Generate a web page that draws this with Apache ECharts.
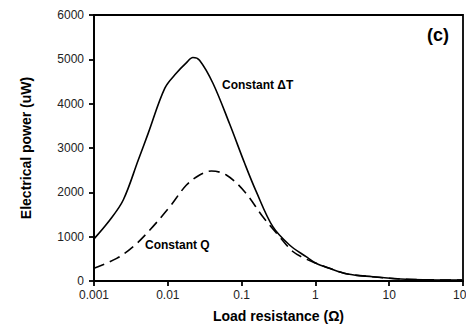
<!DOCTYPE html>
<html>
<head>
<meta charset="utf-8">
<script src="https://cdn.jsdelivr.net/npm/echarts@6/dist/echarts.min.js"></script>
<style>
  html, body { margin: 0; padding: 0; background: #fff; }
  #chart { width: 466px; height: 334px; }
</style>
</head>
<body>
<div id="chart"></div>
<script>
// Load resistance (ohm) and electrical power (uW) for the two operating modes
const resistanceDT = [0.001, 0.00164, 0.00249, 0.00398, 0.00542, 0.00912, 0.0131, 0.0178, 0.0219, 0.0269,
  0.0409, 0.0689, 0.11, 0.158, 0.265, 0.446, 0.748, 1.02, 1.55, 2.73, 5.94, 16.8, 97.7];
const powerDT = [950, 1376, 1827, 2730, 3330, 4350, 4690, 4920, 5040, 4980,
  4460, 3540, 2655, 2015, 1225, 812, 548, 400, 286, 158, 97, 38, 20];

const resistanceQ = [0.001, 0.00203, 0.0034, 0.00571, 0.0107, 0.0179, 0.027, 0.039, 0.0621, 0.11,
  0.194, 0.327, 0.494, 0.708, 1.02, 1.55, 2.73, 5.94, 16.8, 97.7];
const powerQ = [290, 510, 775, 1150, 1680, 2165, 2390, 2480, 2390, 2015,
  1450, 1000, 665, 515, 400, 286, 158, 97, 38, 20];

const xTickLabels = ['0.001', '0.01', '0.1', '1', '10', '100'];
const yTickValues = [0, 1000, 2000, 3000, 4000, 5000, 6000];

const pairs = (xs, ys) => xs.map((x, i) => [x, ys[i]]);

const chart = echarts.init(document.getElementById('chart'), null, { renderer: 'svg' });

const font = 'Liberation Sans, Arial, sans-serif';

chart.setOption({
  backgroundColor: '#fff',
  animation: false,
  grid: {
    left: 94, right: 3, top: 15, bottom: 53,
    outerBoundsMode: 'none', containLabel: false,
    show: true, borderColor: '#000', borderWidth: 1.8, backgroundColor: 'transparent'
  },
  xAxis: {
    type: 'log', logBase: 10, min: 0.001, max: 100,
    name: 'Load resistance (Ω)', nameLocation: 'middle', nameGap: 28,
    nameTextStyle: { fontFamily: font, fontSize: 14, fontWeight: 'bold', color: '#000' },
    axisLine: { show: true, lineStyle: { color: '#000', width: 1.8 } },
    axisTick: { show: true, inside: false, length: 5, lineStyle: { color: '#000', width: 1.8 } },
    minorTick: { show: false },
    splitLine: { show: false },
    axisLabel: {
      margin: 8, fontFamily: font, fontSize: 12, color: '#222', hideOverlap: false,
      formatter: v => xTickLabels[Math.round(Math.log10(v)) + 3]
    }
  },
  yAxis: {
    type: 'value', min: yTickValues[0], max: yTickValues[yTickValues.length - 1], interval: 1000,
    name: 'Electrical power (uW)', nameLocation: 'middle', nameGap: 61,
    nameTextStyle: { fontFamily: font, fontSize: 14, fontWeight: 'bold', color: '#000' },
    axisLine: { show: true, lineStyle: { color: '#000', width: 1.8 } },
    axisTick: { show: true, inside: false, length: 5, lineStyle: { color: '#000', width: 1.8 } },
    splitLine: { show: false },
    axisLabel: { margin: 10, fontFamily: font, fontSize: 12, color: '#222', formatter: v => String(v) }
  },
  series: [
    {
      name: 'Constant ΔT', type: 'line', data: pairs(resistanceDT, powerDT),
      smooth: 0.35, symbol: 'none',
      lineStyle: { color: '#000', width: 1.6, type: 'solid' }
    },
    {
      name: 'Constant Q', type: 'line', data: pairs(resistanceQ, powerQ),
      smooth: 0.35, symbol: 'none',
      lineStyle: { color: '#000', width: 1.6, type: [11, 6] }
    }
  ],
  graphic: [
    { type: 'text', left: 222, top: 79,
      style: { text: 'Constant ΔT', font: 'bold 12px ' + font, fill: '#000' } },
    { type: 'text', left: 145, top: 239,
      style: { text: 'Constant Q', font: 'bold 12px ' + font, fill: '#000' } },
    { type: 'text', left: 427, top: 26,
      style: { text: '(c)', font: 'bold 18px ' + font, fill: '#000' } }
  ]
});
</script>
</body>
</html>
